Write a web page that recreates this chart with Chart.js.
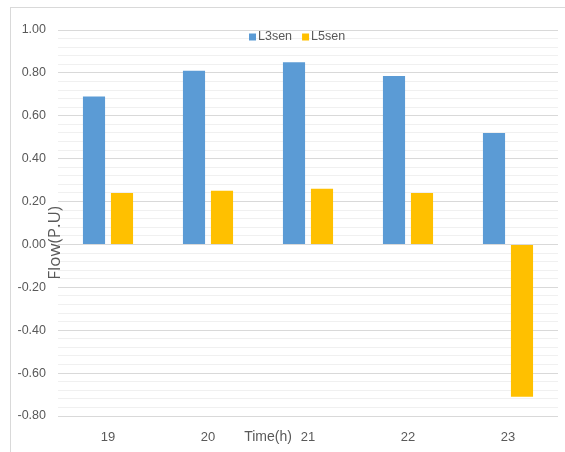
<!DOCTYPE html>
<html>
<head>
<meta charset="utf-8">
<title>Flow L3sen / L5sen</title>
<script src="https://cdn.jsdelivr.net/npm/chart.js"></script>
<style>
  html, body { margin: 0; padding: 0; background: #fff; overflow: hidden; }
  #wrap { position: relative; width: 565px; height: 452px; }
  #frame { position: absolute; left: 10px; top: 7px; width: 600px; height: 500px;
           border: 1px solid #d9d9d9; box-sizing: border-box; }
  canvas { position: absolute; left: 0; top: 0; }
</style>
</head>
<body>
<div id="wrap">
  <div id="frame"></div>
  <canvas id="flowChart" width="565" height="452"></canvas>
</div>
<script>
// hours on the x axis
const hours = ['19', '20', '21', '22', '23'];
// line flows in per unit
const l3sen = [0.69, 0.81, 0.85, 0.785, 0.52];
const l5sen = [0.24, 0.25, 0.26, 0.24, -0.71];
const seriesNames = ['L3sen', 'L5sen'];
const seriesColors = ['#5b9bd5', '#ffc000'];
const yMin = -0.8, yMax = 1.0, yStep = 0.04, yLabelStep = 0.2;

const narrowFont = '"Liberation Sans Narrow", "Arial Narrow", "Liberation Sans", sans-serif';
const textGrey = '#595959';

function isMajor(v) {
  return Math.round(v * 100) % Math.round(yLabelStep * 100) === 0;
}

// legend, axis titles drawn over the plot area
const overlayText = {
  id: 'overlayText',
  afterDraw(chart) {
    const ctx = chart.ctx;
    ctx.save();
    ctx.fillStyle = textGrey;
    ctx.textBaseline = 'middle';
    ctx.font = '12.5px ' + narrowFont;
    let x = 249;
    const y = 37;
    seriesNames.forEach((name, i) => {
      ctx.fillStyle = seriesColors[i];
      ctx.fillRect(x, y - 3.5, 7, 7);
      ctx.fillStyle = textGrey;
      ctx.textAlign = 'left';
      ctx.fillText(name, x + 9, y);
      x += 9 + ctx.measureText(name).width + 10;
    });

    // x axis title
    ctx.font = '14px ' + narrowFont;
    ctx.textAlign = 'center';
    ctx.fillText('Time(h)', 268, 437);

    // y axis title
    ctx.translate(55, 243);
    ctx.rotate(-Math.PI / 2);
    ctx.font = '17px "Open Sans", "Noto Sans", sans-serif';
    ctx.fillText('Flow(P.U)', 0, 0);
    ctx.restore();
  }
};

new Chart(document.getElementById('flowChart'), {
  type: 'bar',
  data: {
    labels: hours,
    datasets: [
      { label: seriesNames[0], data: l3sen, backgroundColor: seriesColors[0] },
      { label: seriesNames[1], data: l5sen, backgroundColor: seriesColors[1] }
    ]
  },
  options: {
    responsive: false,
    animation: false,
    events: [],
    layout: { padding: { top: 30, right: 7, left: 0, bottom: 0 } },
    datasets: { bar: { categoryPercentage: 0.56, barPercentage: 0.79 } },
    plugins: { legend: { display: false }, tooltip: { enabled: false } },
    scales: {
      x: {
        grid: { display: false, drawTicks: false },
        border: { display: false },
        ticks: { color: textGrey, font: { family: narrowFont, size: 13 }, padding: 14 },
        afterFit(scale) { scale.height = 36; }
      },
      y: {
        min: yMin,
        max: yMax,
        grid: {
          drawTicks: false,
          color: ctx => isMajor(ctx.tick.value) ? '#d9d9d9' : '#f0f0f0'
        },
        border: { display: false },
        ticks: {
          stepSize: yStep,
          autoSkip: false,
          padding: 12,
          color: textGrey,
          font: { family: narrowFont, size: 12.5 },
          callback: v => isMajor(v) ? v.toFixed(2) : ''
        },
        afterFit(scale) { scale.width = 58; }
      }
    }
  },
  plugins: [overlayText]
});
</script>
</body>
</html>
